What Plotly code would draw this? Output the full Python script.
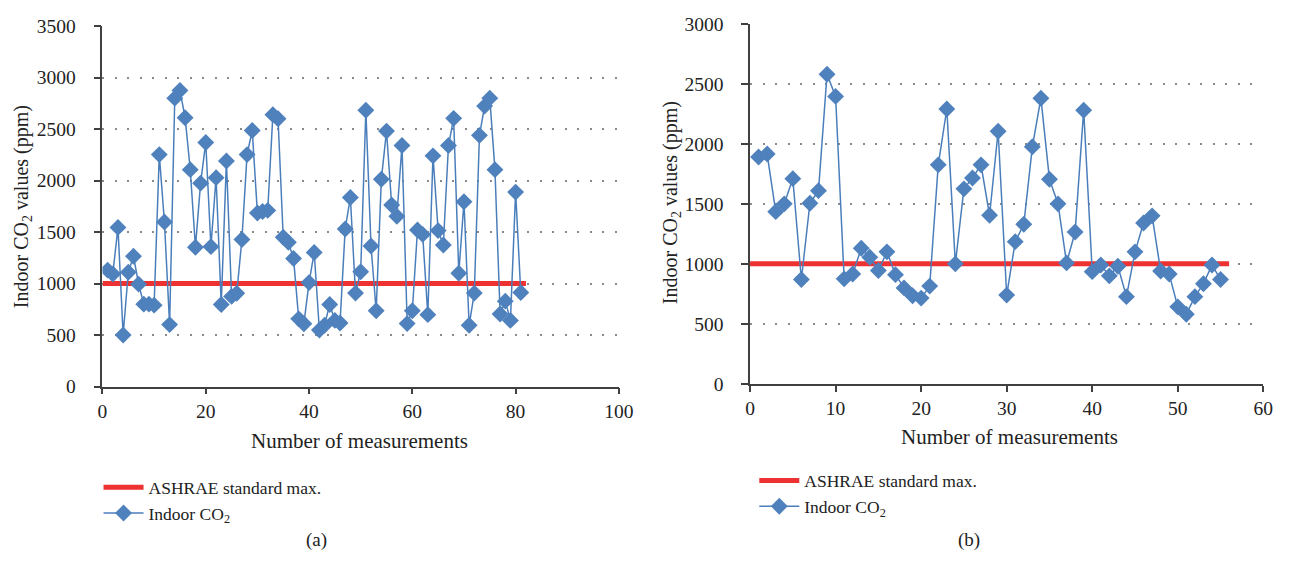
import plotly.graph_objects as go

# ---- Data: panel (a) ----
co2_a = [1130, 1093, 1545, 500, 1109, 1265, 994, 800, 800, 790,
         2252, 1598, 601, 2800, 2875, 2610, 2106, 1352, 1975, 2370,
         1358, 2028, 797, 2190, 875, 906, 1427, 2252, 2486, 1685,
         1700, 1710, 2640, 2600, 1450, 1400, 1243, 657, 610, 1009,
         1302, 548, 595, 797, 642, 617, 1530, 1835, 907, 1115,
         2682, 1364, 735, 2012, 2480, 1763, 1654, 2340, 611, 735,
         1520, 1477, 698, 2240, 1514, 1374, 2340, 2604, 1100, 1794,
         595, 907, 2439, 2723, 2800, 2106, 704, 829, 642, 1888, 913]
meas_a = list(range(1, len(co2_a) + 1))
ashrae_a_x = [0, 82]
ashrae_a_y = [1000, 1000]

# ---- Data: panel (b) ----
co2_b = [1890, 1915, 1435, 1500, 1710, 870, 1505, 1610, 2580, 2395,
         875, 915, 1130, 1055, 945, 1100, 910, 800, 735, 715,
         815, 1825, 2290, 1000, 1625, 1715, 1825, 1405, 2105, 740,
         1185, 1330, 1975, 2380, 1705, 1500, 1008, 1265, 2280, 935,
         990, 900, 980, 727, 1100, 1340, 1400, 940, 915, 642,
         580, 727, 835, 990, 870]
meas_b = list(range(1, len(co2_b) + 1))
ashrae_b_x = [0, 56]
ashrae_b_y = [1000, 1000]

FONT = "Liberation Serif"
BLUE = "#4F81BD"
LINEBLUE = "#4A7EBB"
RED = "#EE3131"
AX = "#404040"

fig = go.Figure()

def add_panel(xs, ys, ax_x, ax_y, xa, ya, legend):
    fig.add_trace(go.Scatter(x=ax_x, y=ax_y, mode="lines", name="ASHRAE standard max.",
                             line=dict(color=RED, width=5), xaxis=xa, yaxis=ya,
                             legend=legend))
    fig.add_trace(go.Scatter(x=xs, y=ys, mode="lines+markers", name="Indoor CO<sub>2</sub>",
                             line=dict(color=LINEBLUE, width=1.5),
                             marker=dict(symbol="diamond", size=13, color=BLUE,
                                         line=dict(width=0)),
                             xaxis=xa, yaxis=ya, legend=legend))

add_panel(meas_a, co2_a, ashrae_a_x, ashrae_a_y, "x", "y", "legend")
add_panel(meas_b, co2_b, ashrae_b_x, ashrae_b_y, "x2", "y2", "legend2")

common_x = dict(showline=True, linecolor=AX, linewidth=1.5, ticks="outside", ticklen=6,
                tickcolor=AX, tickwidth=1.5, showgrid=False, zeroline=False,
                tickfont=dict(family=FONT, size=19.5, color="#222"))
common_y = dict(showline=True, linecolor=AX, linewidth=1.5, ticks="outside", ticklen=7,
                tickcolor=AX, tickwidth=1.5, showgrid=True, gridcolor="#8a8a8a",
                gridwidth=1.5, griddash="2px,10.5px", zeroline=False, dtick=500,
                tickfont=dict(family=FONT, size=19.5, color="#222"), ticklabelstandoff=14)

fig.update_layout(
    width=1299, height=567,
    margin=dict(l=0, r=0, t=0, b=0),
    paper_bgcolor="white", plot_bgcolor="white",
    font=dict(family=FONT, size=18, color="#222"),
    xaxis=dict(domain=[0.07621, 0.47998], range=[0, 100], dtick=20, anchor="y", **common_x),
    yaxis=dict(domain=[0.31041, 0.97055], range=[0, 3500], anchor="x", **common_y),
    xaxis2=dict(domain=[0.58252, 0.98383], range=[0, 60], dtick=10, anchor="y2", **common_x),
    yaxis2=dict(domain=[0.31517, 0.97478], range=[0, 3000], anchor="x2", **common_y),
    legend=dict(x=95 / 1299, y=1 - 477 / 567, xanchor="left", yanchor="top",
                bgcolor="rgba(0,0,0,0)", itemwidth=40, font=dict(family=FONT, size=17.5),
                tracegroupgap=0),
    legend2=dict(x=761 / 1299, y=1 - 470 / 567, xanchor="left", yanchor="top",
                 bgcolor="rgba(0,0,0,0)", itemwidth=40, font=dict(family=FONT, size=17.5),
                 tracegroupgap=0),
    showlegend=True,
)

ann = [
    dict(text="Number of measurements", x=360 / 1299, y=1 - 448 / 567, size=21),
    dict(text="Number of measurements", x=1020 / 1299, y=1 - 443 / 567, size=21),
    dict(text="Indoor CO<sub>2</sub> values (ppm)", x=18 / 1299, y=1 - 204 / 567, textangle=-90, size=20),
    dict(text="Indoor CO<sub>2</sub> values (ppm)", x=677 / 1299, y=1 - 200 / 567, textangle=-90, size=20),
    dict(text="(a)", x=316 / 1299, y=1 - 550 / 567, size=19),
    dict(text="(b)", x=979 / 1299, y=1 - 550 / 567, size=19),
]
for a in ann:
    size = a.pop("size", 18)
    fig.add_annotation(xref="paper", yref="paper", showarrow=False,
                       xanchor="center", yanchor="middle",
                       font=dict(family=FONT, size=size, color="#222"), **a)

fig.write_html("out.html")
